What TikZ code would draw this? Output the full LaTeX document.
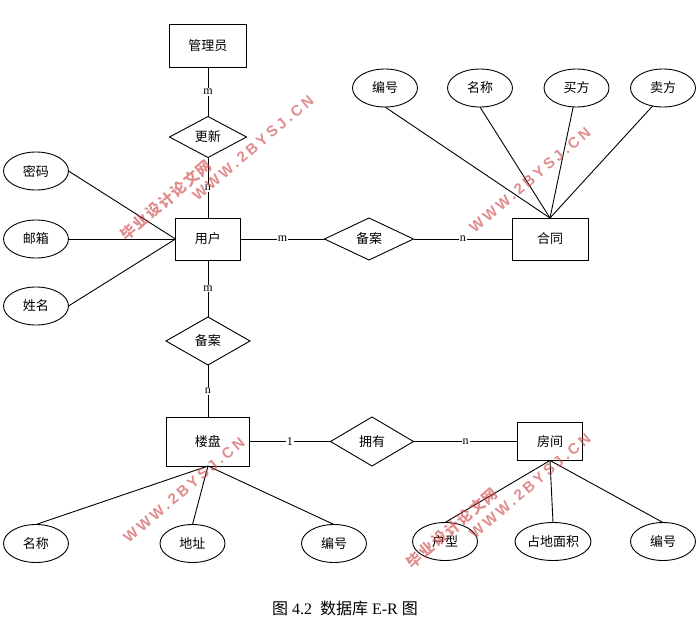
\documentclass[tikz,border=0pt]{standalone}
\usepackage{fontspec}
\setmainfont{Liberation Serif}
\newfontfamily\cjk{Noto Sans CJK SC}
\newfontfamily\stampfont[LetterSpace=21]{Liberation Sans}
\newfontfamily\stampcjk[LetterSpace=10]{Noto Sans CJK SC}
\usepackage{tikz}
\usetikzlibrary{shapes}
\definecolor{stampred}{RGB}{205,70,70}

\begin{document}
\begin{tikzpicture}[node distance=100pt,line width=0.9pt]

	\tikzstyle{entity}=[rectangle,draw=black,inner sep=0pt,outer sep=0pt,font=\fontsize{13}{15}\selectfont\cjk]
	\tikzstyle{relation}=[diamond,draw=black,inner sep=0pt,outer sep=0pt,font=\fontsize{13}{15}\selectfont\cjk]
	\tikzstyle{attrib}=[ellipse,draw=black,inner sep=0pt,outer sep=0pt,minimum width=65pt,minimum height=38pt,font=\fontsize{13}{15}\selectfont\cjk]
	\tikzstyle{card}=[fill=white,inner sep=1pt,font=\fontsize{12}{13}\selectfont]
	\tikzstyle{stamp}=[rotate=40.5,text=stampred,text opacity=0.62,font=\fontsize{15}{17}\selectfont\bfseries\stampfont]
	\tikzstyle{stampzh}=[rotate=40.5,text=stampred,text opacity=0.62,font=\fontsize{15}{17}\selectfont\bfseries\stampcjk]

	\path [use as bounding box] (-208pt,239pt) rectangle (491pt,-391pt);

	% user side
	\node [entity,minimum width=65pt,minimum height=42pt] (user) {用户};
	\node [entity,minimum width=77pt,minimum height=43pt] (admin) [above of=user,node distance=193pt] {管理员};
	\node [relation,minimum width=77pt,minimum height=41pt] (update) [above of=user,node distance=102pt] {更新}
		edge node [card] {m} (admin)
		edge node [card] {n} (user);

	\node [attrib] (pwd) [left of=user,node distance=172pt,yshift=68pt] {密码};
	\node [attrib] (mail) [left of=user,node distance=172pt] {邮箱};
	\node [attrib] (uname) [left of=user,node distance=172pt,yshift=-67pt] {姓名};
	\draw (pwd.east) -- (user.west);
	\draw (mail.east) -- (user.west);
	\draw (uname.east) -- (user.west);

	% contract side
	\node [relation,minimum width=89pt,minimum height=42pt] (sign) [right of=user,node distance=161pt] {备案}
		edge node [card] {m} (user);
	\node [entity,minimum width=76pt,minimum height=42pt] (contract) [right of=sign,node distance=181pt] {合同}
		edge node [card] {n} (sign);

	\node [attrib] (cno) [above of=contract,node distance=151pt,xshift=-165pt] {编号};
	\node [attrib] (cname) [above of=contract,node distance=151pt,xshift=-70pt] {名称};
	\node [attrib] (buyer) [above of=contract,node distance=151pt,xshift=26.5pt] {买方};
	\node [attrib] (seller) [above of=contract,node distance=151pt,xshift=113pt] {卖方};
	\draw (cno.south) -- (contract.north);
	\draw (cname.south) -- (contract.north);
	\draw (buyer.260) -- (contract.north);
	\draw (seller.240) -- (contract.north);

	% estate side
	\node [relation,minimum width=84pt,minimum height=48pt] (file) [below of=user,node distance=102pt] {备案}
		edge node [card] {m} (user);
	\node [entity,minimum width=83pt,minimum height=49pt] (estate) [below of=file,node distance=100.5pt] {楼盘}
		edge node [card] {n} (file);
	\node [relation,minimum width=83pt,minimum height=49pt] (own) [right of=estate,node distance=164pt] {拥有}
		edge node [card] {1} (estate);
	\node [entity,minimum width=65pt,minimum height=38pt] (room) [right of=own,node distance=178pt] {房间}
		edge node [card] {n} (own);

	\node [attrib] (ename) [below of=estate,node distance=102pt,xshift=-172pt] {名称};
	\node [attrib] (addr) [below of=estate,node distance=102pt,xshift=-15.5pt] {地址};
	\node [attrib] (eno) [below of=estate,node distance=102pt,xshift=126pt] {编号};
	\draw (ename.north) -- (estate.south);
	\draw (addr.north) -- (estate.south);
	\draw (eno.north) -- (estate.south);

	\node [attrib] (rtype) [below of=room,node distance=100pt,xshift=-105pt] {户型};
	\node [attrib,minimum width=76pt] (area) [below of=room,node distance=100pt,xshift=3pt] {占地面积};
	\node [attrib] (rno) [below of=room,node distance=100pt,xshift=113pt] {编号};
	\draw (rtype.north) -- (room.south);
	\draw (area.north) -- (room.south);
	\draw (rno.north) -- (room.south);

	% caption
	\node (caption) at (137pt,-369pt) {\fontsize{16}{18}\selectfont{\cjk 图} 4.2\ \ {\cjk 数据库} E-R {\cjk 图}};

	% watermark
	\node [stamp] (www1) at (45pt,91pt) {WWW.2BYSJ.CN};
	\node [stamp] (www2) at (322pt,59pt) {WWW.2BYSJ.CN};
	\node [stamp] (www3) at (-24pt,-251pt) {WWW.2BYSJ.CN};
	\node [stamp] (www4) at (322pt,-247pt) {WWW.2BYSJ.CN};
	\node [stampzh] (site1) at (-42pt,39pt) {毕业设计论文网};
	\node [stampzh] (site2) at (244pt,-289pt) {毕业设计论文网};
\end{tikzpicture}
\end{document}
